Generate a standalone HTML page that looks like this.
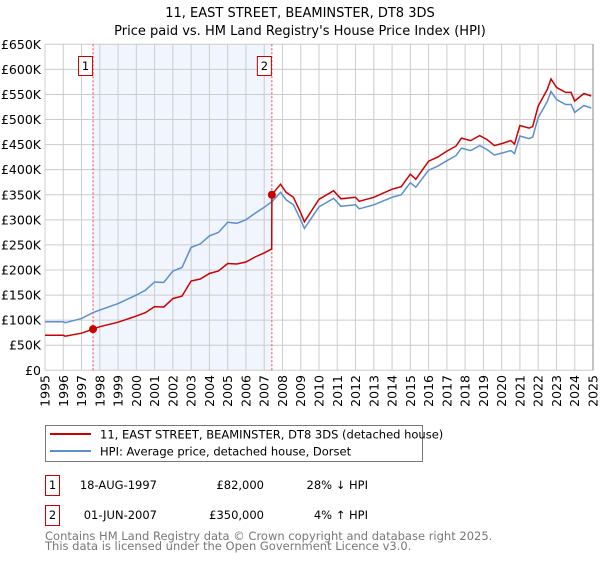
<!DOCTYPE html>
<html><head><meta charset="utf-8"><style>
body{margin:0;background:#fff;font-family:"DejaVu Sans","Liberation Sans",sans-serif;}
svg text{font-family:"DejaVu Sans","Liberation Sans",sans-serif;}
</style></head><body>
<svg id="chart" width="600" height="560" xmlns="http://www.w3.org/2000/svg">
<text x="300" y="17" font-size="13" text-anchor="middle">11, EAST STREET, BEAMINSTER, DT8 3DS</text>
<text x="300" y="35" font-size="13" text-anchor="middle">Price paid vs. HM Land Registry's House Price Index (HPI)</text>
<g id="grid"></g><g id="marks"></g><g id="axes"></g>
<g>
<rect x="45.5" y="425.5" width="377" height="36" fill="#fff" stroke="#777"/>
<line x1="50" y1="434" x2="91" y2="434" stroke="#cc0000" stroke-width="2"/>
<text x="100" y="438.5" font-size="11.5">11, EAST STREET, BEAMINSTER, DT8 3DS (detached house)</text>
<line x1="50" y1="451" x2="91" y2="451" stroke="#5b8fd0" stroke-width="2"/>
<text x="100" y="455.5" font-size="11.5">HPI: Average price, detached house, Dorset</text>
</g>
<g font-size="11.5">
<rect x="45.5" y="475.5" width="14" height="20" fill="#fff" stroke="#cc0000"/>
<text x="52.5" y="489" text-anchor="middle">1</text>
<text x="157" y="489" text-anchor="end">18-AUG-1997</text>
<text x="264" y="489" text-anchor="end">£82,000</text>
<text x="368" y="489" text-anchor="end">28% ↓ HPI</text>
</g>
<g font-size="11.5">
<rect x="45.5" y="505.5" width="14" height="20" fill="#fff" stroke="#cc0000"/>
<text x="52.5" y="519" text-anchor="middle">2</text>
<text x="157" y="519" text-anchor="end">01-JUN-2007</text>
<text x="264" y="519" text-anchor="end">£350,000</text>
<text x="368" y="519" text-anchor="end">4% ↑ HPI</text>
</g>
<text x="45" y="540" font-size="11.5" fill="#777">Contains HM Land Registry data © Crown copyright and database right 2025.</text>
<text x="45" y="550" font-size="11.5" fill="#777">This data is licensed under the Open Government Licence v3.0.</text>
</svg>
<script>
const years=[1995,1996,1996.1,1997,1997.63,1998,1999,2000,2000.5,2001,2001.5,2002,2002.5,2003,2003.5,2004,2004.5,2005,2005.5,2006,2006.5,2007,2007.41,2007.42,2007.9,2008.2,2008.6,2009.0,2009.2,2010,2010.8,2011.2,2012,2012.2,2013,2014,2014.5,2015,2015.3,2016,2016.5,2017,2017.5,2017.8,2018.3,2018.8,2019.2,2019.6,2020,2020.5,2020.7,2021,2021.5,2021.7,2022,2022.5,2022.7,2023,2023.5,2023.8,2024,2024.5,2024.9];
const hpiValues=[97,97,95,103,115,120,133,150,160,176,175,198,205,245,252,268,275,295,293,300,313,325,336,336,355,340,330,300,283,326,343,327,330,322,330,345,350,374,365,399,407,418,428,443,438,448,440,429,433,438,432,467,462,465,504,536,556,540,530,530,514,528,523];
const propertyValues=[70,70,68,74,82,87,96,108,115,127,126,143,148,178,182,193,198,213,212,216,226,234,242,350,371,355,345,314,296,341,358,342,345,337,345,361,366,391,381,417,425,437,447,463,458,468,460,448,452,458,451,488,483,486,527,560,581,564,554,554,537,552,547];
const saleYears=[1997.63,2007.42];
const saleValues=[82,350];
const saleLabels=["1","2"];
const yTicks=[0,50,100,150,200,250,300,350,400,450,500,550,600,650];
const xTicks=[1995,1996,1997,1998,1999,2000,2001,2002,2003,2004,2005,2006,2007,2008,2009,2010,2011,2012,2013,2014,2015,2016,2017,2018,2019,2020,2021,2022,2023,2024,2025];
const X0=45,X1=593,Y0=370.3,Y1=44.3;
const xs=y=>X0+(y-1995)/30*(X1-X0);
const ys=v=>Y0-v/650*(Y0-Y1);
const NS="http://www.w3.org/2000/svg";
function mk(t,a,p){const e=document.createElementNS(NS,t);for(const k in a)e.setAttribute(k,a[k]);p.appendChild(e);return e;}
const grid=document.getElementById('grid'),marks=document.getElementById('marks'),axes=document.getElementById('axes');
const sh=mk('rect',{x:xs(saleYears[0]),y:Y1,width:xs(saleYears[1])-xs(saleYears[0]),height:Y0-Y1,fill:'#eef3fc',opacity:0.8},grid);


yTicks.forEach(v=>{
 const l=mk('line',{x1:X0,x2:X1,y1:ys(v),y2:ys(v),stroke:'#cccccc'},grid);
 
 
 const t=mk('text',{x:41,y:ys(v)+4.5,'font-size':12.5,'text-anchor':'end'},axes);
 t.textContent=v===0?'£0':'£'+v+'K';
 
 
});
xTicks.forEach(y=>{
 const l=mk('line',{x1:xs(y),x2:xs(y),y1:Y1,y2:Y0,stroke:'#cccccc'},grid);
 
 
 const t=mk('text',{x:0,y:0,'font-size':12.5,'text-anchor':'end',transform:`translate(${xs(y)+4.5},375) rotate(-90)`},axes);
 t.textContent=y;
 
 
});
saleYears.forEach((y,i)=>{
 const l=mk('line',{x1:xs(y),x2:xs(y),y1:Y1,y2:Y0,stroke:'#ee4444','stroke-dasharray':'2,2','stroke-width':1},marks);
 
 
 const r=mk('rect',{x:xs(y)-14.5,y:56.5,width:14,height:19,fill:'#fff',stroke:'#cc0000'},marks);
 
 
 const t=mk('text',{x:xs(y)-7.5,y:70,'font-size':11.5,'text-anchor':'middle'},marks);
 t.textContent=saleLabels[i];
 
 
});
const path=vals=>years.map((y,i)=>(i?'L':'M')+xs(y).toFixed(1)+','+ys(vals[i]).toFixed(1)).join('');
const hp=mk('path',{d:path(hpiValues),fill:'none',stroke:'#5b8fd0','stroke-width':1.5},marks);


const pp=mk('path',{d:path(propertyValues),fill:'none',stroke:'#cc0000','stroke-width':1.5},marks);


saleYears.forEach((y,i)=>{
 const c=mk('circle',{cx:xs(y),cy:ys(saleValues[i]),r:4,fill:'#cc0000'},marks);
 
 
});
const ax=mk('line',{x1:X1,x2:X1,y1:Y1,y2:Y0,stroke:'#888'},axes);


</script>
</body></html>
